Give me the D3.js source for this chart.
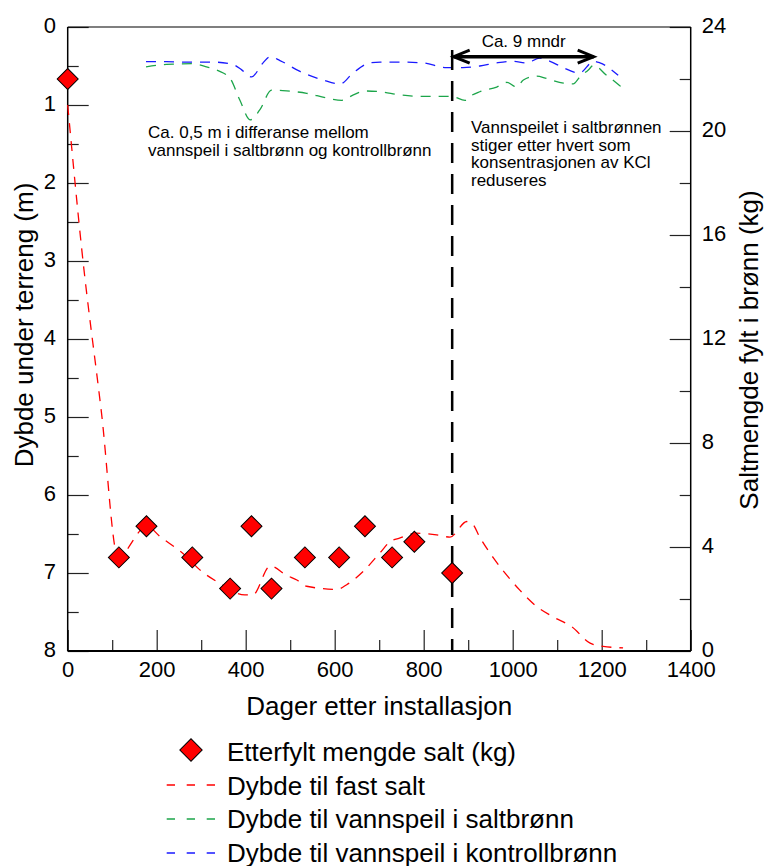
<!DOCTYPE html>
<html>
<head>
<meta charset="utf-8">
<script src="https://cdn.jsdelivr.net/npm/d3@7"></script>
<style>
  body { margin: 0; background: #fff; }
  svg text { font-family: "Liberation Sans", Arial, sans-serif; fill: #000; }
</style>
</head>
<body>
<svg id="chart" width="765" height="866"></svg>
<script>
// salt refilled (kg, right axis)
const saltDays = [0, 115, 177, 280, 365, 413, 458, 533, 610, 668, 729, 779, 864];
const saltKg = [22, 3.6, 4.8, 3.6, 2.4, 4.8, 2.4, 3.6, 3.6, 4.8, 3.6, 4.2, 3.0];

// depth to solid salt (m)
const solidDays = [0, 31, 76, 113, 178, 207, 267, 297, 335, 398, 416, 455, 492, 515, 537, 605, 627, 664, 702, 724, 747, 784, 829, 859, 897, 908, 927, 957, 987, 1016, 1054, 1090, 1133, 1174, 1203, 1248];
const solidDepth = [1.0, 2.82, 4.95, 6.79, 6.4, 6.53, 6.79, 6.96, 7.11, 7.28, 7.28, 6.91, 7.03, 7.09, 7.17, 7.21, 7.15, 6.98, 6.74, 6.6, 6.55, 6.49, 6.51, 6.54, 6.34, 6.36, 6.55, 6.81, 7.03, 7.22, 7.43, 7.56, 7.69, 7.9, 7.94, 7.96];

// water level in salt well (m)
const saltWellDays = [176, 222, 279, 312, 338, 365, 387, 410, 432, 458, 492, 537, 582, 616, 642, 668, 702, 747, 798, 863, 893, 904, 926, 964, 987, 1009, 1024, 1054, 1076, 1114, 1136, 1151, 1170, 1182, 1211, 1234, 1252];
const saltWellDepth = [0.51, 0.48, 0.47, 0.51, 0.56, 0.66, 0.94, 1.19, 1.06, 0.81, 0.82, 0.85, 0.91, 0.94, 0.87, 0.82, 0.83, 0.87, 0.89, 0.89, 0.94, 0.89, 0.83, 0.77, 0.71, 0.77, 0.68, 0.63, 0.66, 0.72, 0.73, 0.64, 0.55, 0.49, 0.62, 0.72, 0.81];

// water level in control well (m)
const controlDays = [176, 222, 270, 326, 371, 391, 413, 439, 455, 477, 522, 574, 612, 641, 679, 702, 747, 798, 851, 888, 926, 964, 1000, 1031, 1061, 1084, 1113, 1150, 1182, 1196, 1237];
const controlDepth = [0.445, 0.445, 0.45, 0.45, 0.48, 0.55, 0.64, 0.46, 0.38, 0.43, 0.57, 0.68, 0.73, 0.59, 0.46, 0.45, 0.45, 0.46, 0.52, 0.52, 0.5, 0.46, 0.44, 0.46, 0.4, 0.44, 0.52, 0.59, 0.44, 0.46, 0.62];

const markerDay = 864;
const arrowEndDay = 1182;

const xTicks = [0, 200, 400, 600, 800, 1000, 1200, 1400];
const depthTicks = [0, 1, 2, 3, 4, 5, 6, 7, 8];
const kgTicks = [0, 4, 8, 12, 16, 20, 24];

const legendLabels = [
  "Etterfylt mengde salt (kg)",
  "Dybde til fast salt",
  "Dybde til vannspeil i saltbrønn",
  "Dybde til vannspeil i kontrollbrønn"
];
const noteLeft = ["Ca. 0,5 m i differanse mellom", "vannspeil i saltbrønn og kontrollbrønn"];
const noteRight = ["Vannspeilet i saltbrønnen", "stiger etter hvert som", "konsentrasjonen av KCl", "reduseres"];

const RED = "#ff0000", GREEN = "#1ca54a", BLUE = "#1a1aff";

const svg = d3.select("#chart");
const pLeft = 67.7, pRight = 690.7, pTop = 27, pBottom = 651;

const x = d3.scaleLinear().domain([0, 1400]).range([pLeft, pRight]);
const yDepth = d3.scaleLinear().domain([0, 8]).range([pTop, pBottom]);
const yKg = d3.scaleLinear().domain([0, 24]).range([pBottom, pTop]);

// axes: minor ticks first, then major with labels
function styleAxis(g) {
  g.select(".domain").remove();
  g.selectAll(".tick line").attr("stroke", "#222").attr("stroke-width", 1.2);
  g.selectAll(".tick text").style("font-size", "22px").attr("fill", "#000");
}

svg.append("g").attr("transform", `translate(0,${pBottom})`)
  .call(d3.axisBottom(x).tickValues(d3.range(100, 1400, 200)).tickSize(-11).tickFormat(""))
  .call(styleAxis);
svg.append("g").attr("transform", `translate(0,${pBottom})`)
  .call(d3.axisBottom(x).tickValues(xTicks).tickSize(-21).tickPadding(10.5).tickFormat(d3.format("d")))
  .call(styleAxis);

svg.append("g").attr("transform", `translate(${pLeft},0)`)
  .call(d3.axisLeft(yDepth).tickValues(d3.range(0.5, 8, 1)).tickSize(-11).tickFormat(""))
  .call(styleAxis);
svg.append("g").attr("transform", `translate(${pLeft},0)`)
  .call(d3.axisLeft(yDepth).tickValues(depthTicks).tickSize(-21).tickPadding(11.7).tickFormat(d3.format("d")))
  .call(styleAxis)
  .selectAll(".tick text").attr("dy", "0.24em");

svg.append("g").attr("transform", `translate(${pRight},0)`)
  .call(d3.axisRight(yKg).tickValues(d3.range(2, 24, 4)).tickSize(-11).tickFormat(""))
  .call(styleAxis);
svg.append("g").attr("transform", `translate(${pRight},0)`)
  .call(d3.axisRight(yKg).tickValues(kgTicks).tickSize(-21).tickPadding(11).tickFormat(d3.format("d")))
  .call(styleAxis)
  .selectAll(".tick text").attr("dy", "0.24em");

// frame
svg.append("line").attr("x1", pLeft).attr("x2", pRight).attr("y1", pTop).attr("y2", pTop)
  .attr("stroke", "#000").attr("stroke-width", 1.2);
svg.append("line").attr("x1", pLeft).attr("x2", pRight).attr("y1", pBottom).attr("y2", pBottom)
  .attr("stroke", "#000").attr("stroke-width", 2);
svg.append("line").attr("x1", pLeft).attr("x2", pLeft).attr("y1", pTop).attr("y2", pBottom)
  .attr("stroke", "#000").attr("stroke-width", 1.5);
svg.append("line").attr("x1", pRight).attr("x2", pRight).attr("y1", pTop).attr("y2", pBottom)
  .attr("stroke", "#000").attr("stroke-width", 1.5);

// axis titles
svg.append("text").attr("x", (pLeft + pRight) / 2).attr("y", 715)
  .attr("text-anchor", "middle").style("font-size", "26px").text("Dager etter installasjon");
svg.append("text").attr("transform", `translate(33,${(pTop + pBottom) / 2 - 14}) rotate(-90)`)
  .attr("text-anchor", "middle").style("font-size", "26px").text("Dybde under terreng (m)");
svg.append("text").attr("transform", "translate(758,350) rotate(-90)")
  .attr("text-anchor", "middle").style("font-size", "26px").text("Saltmengde fylt i brønn (kg)");

// lines
const line = (days, vals) => d3.line()
  .x((d, i) => x(days[i]))
  .y((d, i) => yDepth(vals[i]))
  .curve(d3.curveMonotoneX)(vals);

const series = [
  { days: controlDays, vals: controlDepth, color: BLUE },
  { days: saltWellDays, vals: saltWellDepth, color: GREEN },
  { days: solidDays, vals: solidDepth, color: RED }
];
series.forEach(s => {
  svg.append("path").attr("d", line(s.days, s.vals))
    .attr("fill", "none").attr("stroke", s.color)
    .attr("stroke-width", 1.3).attr("stroke-dasharray", "10,8");
});

// vertical marker and arrow
svg.append("line").attr("x1", x(markerDay)).attr("x2", x(markerDay))
  .attr("y1", 50).attr("y2", pBottom)
  .attr("stroke", "#000").attr("stroke-width", 2.5).attr("stroke-dasharray", "20,11");

const ay = 56.7, ax1 = x(markerDay) + 1.5, ax2 = x(arrowEndDay);
svg.append("line").attr("x1", ax1).attr("x2", ax2).attr("y1", ay).attr("y2", ay)
  .attr("stroke", "#000").attr("stroke-width", 3.5);
svg.append("path").attr("d", `M${ax1 + 16},${ay - 6.5}L${ax1},${ay}L${ax1 + 16},${ay + 6.5}`)
  .attr("fill", "none").attr("stroke", "#000").attr("stroke-width", 3);
svg.append("path").attr("d", `M${ax2 - 16},${ay - 6.5}L${ax2},${ay}L${ax2 - 16},${ay + 6.5}`)
  .attr("fill", "none").attr("stroke", "#000").attr("stroke-width", 3);
svg.append("text").attr("x", (ax1 + ax2) / 2).attr("y", 47)
  .attr("text-anchor", "middle").style("font-size", "17px").text("Ca. 9 mndr");

// notes
noteLeft.forEach((t, i) => {
  svg.append("text").attr("x", 148).attr("y", 137.5 + i * 18.5).style("font-size", "17px").text(t);
});
noteRight.forEach((t, i) => {
  svg.append("text").attr("x", 471).attr("y", 133 + i * 17.5).style("font-size", "17px").text(t);
});

// diamonds
const diamond = d3.symbol(d3.symbolSquare, 220);
svg.append("g").selectAll("path")
  .data(saltKg)
  .join("path")
  .attr("d", diamond)
  .attr("transform", (d, i) => `translate(${x(saltDays[i])},${yKg(d)}) rotate(45)`)
  .attr("fill", RED).attr("stroke", "#000").attr("stroke-width", 1);

// legend
const legend = svg.append("g");
legend.append("path").attr("d", d3.symbol(d3.symbolSquare, 250))
  .attr("transform", "translate(191,750) rotate(45)")
  .attr("fill", RED).attr("stroke", "#000").attr("stroke-width", 1);
[RED, GREEN, BLUE].forEach((c, i) => {
  const yy = 785 + i * 34;
  legend.append("line").attr("x1", 166.7).attr("x2", 215).attr("y1", yy).attr("y2", yy)
    .attr("stroke", c).attr("stroke-width", 1.3).attr("stroke-dasharray", "8.3,11.7");
});
legendLabels.forEach((t, i) => {
  legend.append("text").attr("x", 227).attr("y", 761 + i * 33.5).style("font-size", "26px").text(t);
});
</script>
</body>
</html>
